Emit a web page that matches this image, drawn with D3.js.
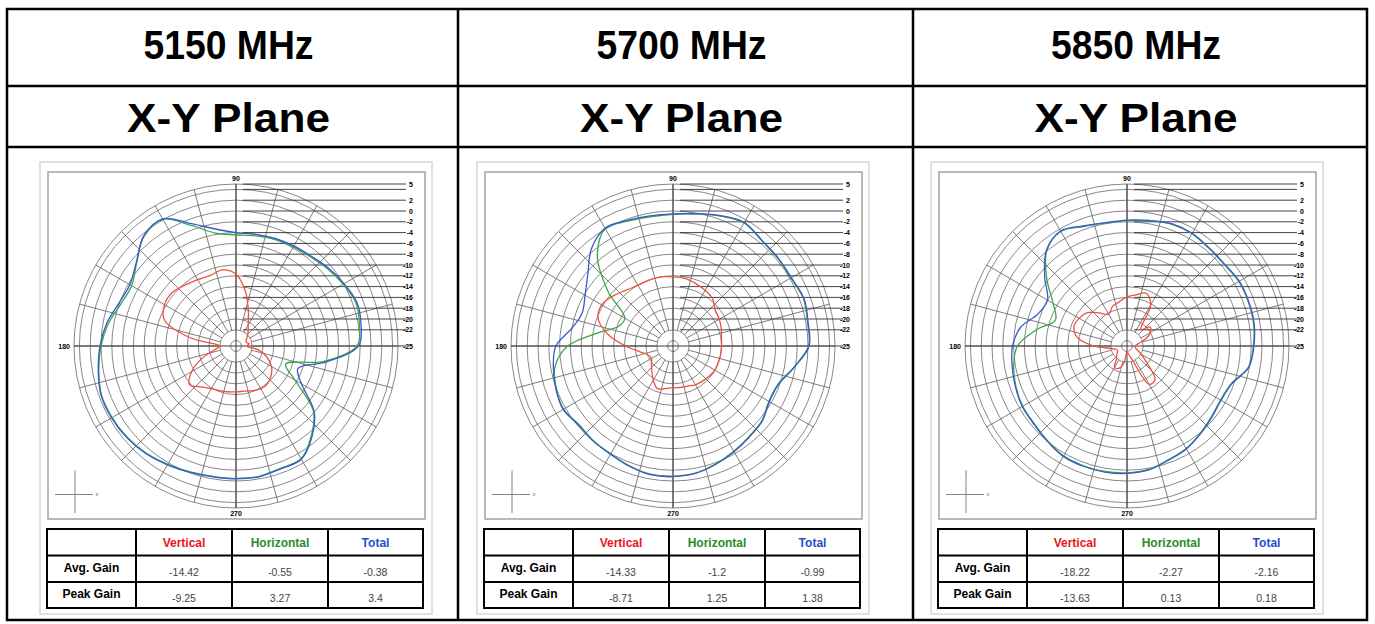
<!DOCTYPE html>
<html>
<head>
<meta charset="utf-8">
<script src="https://cdn.jsdelivr.net/npm/d3@7"></script>
<style>
body { margin: 0; background: #fff; }
svg { display: block; font-family: Arial, "Liberation Sans", sans-serif; }
</style>
</head>
<body>
<svg id="chart" width="1375" height="624"></svg>
<script>
// ---- data ----
const FREQS = ['5150 MHz', '5700 MHz', '5850 MHz'];
const PLANE = 'X-Y Plane';
const ANGLES = [0, 10, 20, 30, 40, 50, 60, 70, 80, 90, 100, 110, 120, 130, 140, 150, 160, 170,
                180, 190, 200, 210, 220, 230, 240, 250, 260, 270, 280, 290, 300, 310, 320, 330, 340, 350];

// 5150 MHz
const V_5150 = [-23, -22.5, -23, -22.8, -22.3, -21.5, -20.5, -18.3, -14.8, -11.7, -10.7, -11.1, -10.8, -10.3, -9.6, -9.7, -10.9, -16.5,
                -22, -21, -18.3, -15.5, -13.8, -15.1, -15.9, -16.2, -16.4, -16.5, -16.5, -16.2, -15.8, -15.9, -16.5, -17.4, -18.9, -20.8];
const H_5150 = [-2.6, -1.8, -1.4, -2.1, -2.8, -3.5, -3.8, -4.0, -4.3, -4.4, -3.8, -1.3, 2.1, 1.5, -1.0, -2.7, -2.3, -1.0,
                0.0, 0.8, 1.5, 1.5, 1.3, 0.9, 0.3, -0.2, -0.5, -0.5, -0.5, -0.9, -0.9, -3.3, -6.3, -12.4, -15.2, -8.5];
const T_5150 = [-2.3, -1.5, -1.2, -1.9, -2.6, -3.3, -3.6, -3.8, -4.0, -4.0, -3.0, -0.9, 2.2, 1.6, -0.9, -2.3, -1.9, -0.7,
                0.2, 0.9, 1.6, 1.6, 1.4, 1.0, 0.4, -0.1, -0.4, -0.4, -0.4, -0.8, -0.8, -3.1, -6.1, -11.0, -12.8, -8.0];

// 5700 MHz
const V_5700 = [-16.0, -15.9, -15.5, -15.1, -14.75, -13.6, -13.1, -12.7, -12.3, -12.2, -12.0, -12.0, -12.0, -11.5, -10.55, -9.75, -10.25, -12.8,
                -16.2, -18.8, -20.1, -20.4, -19.8, -18.9, -17.7, -16.6, -17.0, -17.3, -17.2, -17.1, -16.7, -16.5, -16.3, -16.05, -16.1, -16.05];
const H_5700 = [0.1, 0.3, 0.7, 0.2, 0.3, 0.5, 1.3, 0.6, -0.2, -0.6, -0.7, -0.4, 0.1, -3.2, -9.3, -14.7, -14.3, -10.9,
                -5.5, -2.8, -2.0, -1.6, -2.3, -2.1, -1.9, -1.4, -0.9, -0.9, -1.1, -1.8, -2.5, -3.1, -3.5, -4.5, -4.3, -2.3];
const T_5700 = [0.2, 0.4, 0.8, 0.3, 0.4, 0.6, 1.4, 0.7, -0.1, -0.55, -0.55, -0.25, 0.2, -1.5, -4.4, -6.2, -7.1, -6.0,
                -3.3, -2.5, -1.9, -1.5, -2.2, -2.0, -1.85, -1.3, -0.8, -0.8, -1.05, -1.7, -2.4, -3.0, -3.4, -4.4, -4.2, -2.2];

// 5850 MHz
const V_5850 = [-23.5, -23, -21.5, -20, -19.5, -21, -16.2, -14.6, -15.4, -15.9, -16.7, -17.2, -18.2, -17.0, -15.4, -14.75, -14.55, -15.6,
                -18.8, -22.2, -23, -23, -22.5, -22, -20.4, -20.6, -21.8, -24, -23.5, -22.5, -16.8, -16.9, -20.2, -22, -23, -23.5];
const H_5850 = [-1.6, -1.2, -1.1, -1.1, -1.5, -1.4, -1.0, -1.0, -1.5, -1.8, -1.9, -1.45, -0.5, -1.9, -5.6, -9.2, -10.9, -7.9,
                -4.7, -3.7, -3.1, -2.7, -2.6, -2.1, -1.5, -1.4, -1.4, -1.5, -1.8, -2.6, -3.1, -3.9, -4.6, -5.0, -4.5, -2.2];
const T_5850 = [-1.5, -1.1, -1.0, -1.0, -1.4, -1.3, -0.9, -0.9, -1.4, -1.7, -1.8, -1.35, -0.4, -1.8, -5.1, -8.0, -7.5, -5.0,
                -3.8, -3.4, -3.0, -2.6, -2.5, -2.0, -1.4, -1.3, -1.3, -1.4, -1.7, -2.5, -3.0, -3.8, -4.5, -4.9, -4.4, -2.1];

const SERIES_NAMES = ['Vertical', 'Horizontal', 'Total'];
const AVG_GAIN = [['-14.42', '-0.55', '-0.38'], ['-14.33', '-1.2', '-0.99'], ['-18.22', '-2.27', '-2.16']];
const PEAK_GAIN = [['-9.25', '3.27', '3.4'], ['-8.71', '1.25', '1.38'], ['-13.63', '0.13', '0.18']];
const ROW_NAMES = ['Avg. Gain', 'Peak Gain'];

const RINGS = [5, 4, 2, 0, -2, -4, -6, -8, -10, -12, -14, -16, -18, -20, -22, -24];
const RING_TICKS = [5, 4, 2, 0, -2, -4, -6, -8, -10, -12, -14, -16, -18, -20, -22, -25];
const RING_LABELS = ['5', '', '2', '0', '-2', '-4', '-6', '-8', '-10', '-12', '-14', '-16', '-18', '-20', '-22', '-25'];
const ANGLE_LABELS = [[90, '90'], [180, '180'], [270, '270']];

const PANELS = [
	{v: V_5150, h: H_5150, t: T_5150},
	{v: V_5700, h: H_5700, t: T_5700},
	{v: V_5850, h: H_5850, t: T_5850}
];

// ---- layout ----
const COL_X = [7, 458, 913, 1367];
const ROW_Y = [9, 86, 147, 620];
const CENTERS = [236, 673, 1127];
const CY = 346;
const R = 162;
const COLORS = {v: '#f0503c', h: '#3aa845', t: '#3858d0'};
const HEAD_COLORS = ['#e8141e', '#2a8c2a', '#1f4fc8'];

const svg = d3.select('#chart');

// outer word-style table
const frame = svg.append('g').attr('stroke', '#000').attr('stroke-width', 2.5).attr('fill', 'none');
frame.append('rect')
	.attr('x', COL_X[0]).attr('y', ROW_Y[0])
	.attr('width', COL_X[3] - COL_X[0]).attr('height', ROW_Y[3] - ROW_Y[0]);
[ROW_Y[1], ROW_Y[2]].forEach(y => {
	frame.append('line').attr('x1', COL_X[0]).attr('x2', COL_X[3]).attr('y1', y).attr('y2', y);
});
[COL_X[1], COL_X[2]].forEach(x => {
	frame.append('line').attr('x1', x).attr('x2', x).attr('y1', ROW_Y[0]).attr('y2', ROW_Y[3]);
});

FREQS.forEach((f, i) => {
	const mx = (COL_X[i] + COL_X[i + 1]) / 2 - 4;
	svg.append('text').attr('x', mx).attr('y', 59)
		.attr('text-anchor', 'middle').attr('font-size', 41).attr('font-weight', 'bold')
		.attr('textLength', 170).attr('lengthAdjust', 'spacingAndGlyphs')
		.text(f);
	svg.append('text').attr('x', mx).attr('y', 132)
		.attr('text-anchor', 'middle').attr('font-size', 41).attr('font-weight', 'bold')
		.attr('textLength', 203).attr('lengthAdjust', 'spacingAndGlyphs')
		.text(PLANE);
});

const r = d3.scaleLinear().domain([-25, 5]).range([0, R]).clamp(true);
const toRad = a => (90 - a) * Math.PI / 180;

function drawPanel(i) {
	const cx = CENTERS[i];
	const p = PANELS[i];
	const g = svg.append('g');

	// frames
	g.append('rect').attr('x', cx - 196).attr('y', 162).attr('width', 392).attr('height', 452)
		.attr('fill', 'none').attr('stroke', '#c4c4c4').attr('stroke-width', 1);
	g.append('rect').attr('x', cx - 188).attr('y', 172).attr('width', 377).attr('height', 347)
		.attr('fill', 'none').attr('stroke', '#a8a8a8').attr('stroke-width', 1.6);

	const plot = g.append('g').attr('transform', `translate(${cx},${CY})`);

	// rings
	plot.selectAll('circle.ring').data(RINGS).enter().append('circle')
		.attr('r', d => r(d)).attr('fill', 'none')
		.attr('stroke', '#7a7a7a').attr('stroke-width', 0.9);

	// spokes
	plot.selectAll('line.spoke').data(d3.range(0, 360, 15)).enter().append('line')
		.attr('x1', a => r(-22) * Math.cos(a * Math.PI / 180))
		.attr('y1', a => -r(-22) * Math.sin(a * Math.PI / 180))
		.attr('x2', a => r(5) * Math.cos(a * Math.PI / 180))
		.attr('y2', a => -r(5) * Math.sin(a * Math.PI / 180))
		.attr('stroke', '#6e6e6e').attr('stroke-width', 0.9);

	// axes
	plot.append('line').attr('x1', -R).attr('x2', 170).attr('y1', 0).attr('y2', 0)
		.attr('stroke', '#3a3a3a').attr('stroke-width', 1);
	plot.append('line').attr('x1', 0).attr('x2', 0).attr('y1', -R).attr('y2', R)
		.attr('stroke', '#3a3a3a').attr('stroke-width', 1);

	// dB scale lines to the right
	plot.selectAll('line.tick').data(RING_TICKS.filter(d => d > -25)).enter().append('line')
		.attr('x1', 7).attr('x2', 170)
		.attr('y1', d => -r(d)).attr('y2', d => -r(d))
		.attr('stroke', '#2e2e2e').attr('stroke-width', 0.9);
	plot.selectAll('text.tick').data(RING_TICKS).enter().append('text')
		.attr('x', 177).attr('y', d => -r(d) + 2.5)
		.attr('text-anchor', 'end').attr('font-size', 7).attr('font-weight', 'bold')
		.text((d, k) => RING_LABELS[k]);

	// angle labels
	ANGLE_LABELS.forEach(([a, t]) => {
		const t_el = plot.append('text').attr('font-size', 7).attr('font-weight', 'bold').text(t);
		if (a === 90) t_el.attr('x', 0).attr('y', -R - 3).attr('text-anchor', 'middle');
		if (a === 270) t_el.attr('x', 0).attr('y', R + 8).attr('text-anchor', 'middle');
		if (a === 180) t_el.attr('x', -R - 4).attr('y', 2.5).attr('text-anchor', 'end');
	});

	// pattern curves
	const line = d3.lineRadial()
		.angle((d, k) => toRad(ANGLES[k]))
		.radius(d => r(d))
		.curve(d3.curveCatmullRomClosed.alpha(0.5));
	[['h', 1.3], ['t', 1.3], ['v', 1.3]].forEach(([k, w]) => {
		plot.append('path').datum(p[k])
			.attr('d', line).attr('fill', 'none')
			.attr('stroke', COLORS[k]).attr('stroke-width', w);
	});

	// little x-y icon
	const ic = g.append('g').attr('stroke', '#777').attr('stroke-width', 0.9);
	ic.append('line').attr('x1', cx - 161).attr('x2', cx - 161).attr('y1', 472).attr('y2', 513);
	ic.append('line').attr('x1', cx - 181).attr('x2', cx - 143).attr('y1', 494.5).attr('y2', 494.5);
	g.append('text').attr('x', cx - 161).attr('y', 473).attr('text-anchor', 'middle')
		.attr('font-size', 4).attr('fill', '#555').text('Y');
	g.append('text').attr('x', cx - 139).attr('y', 496).attr('text-anchor', 'middle')
		.attr('font-size', 5).attr('fill', '#555').text('x');

	// gain table
	const tx = [cx - 189, cx - 100, cx - 4, cx + 92, cx + 187];
	const ty = [529, 555.5, 582, 608];
	const tb = g.append('g').attr('stroke', '#000').attr('stroke-width', 2).attr('fill', 'none');
	tb.append('rect').attr('x', tx[0]).attr('y', ty[0]).attr('width', tx[4] - tx[0]).attr('height', ty[3] - ty[0]);
	tx.slice(1, 4).forEach(x => tb.append('line').attr('x1', x).attr('x2', x).attr('y1', ty[0]).attr('y2', ty[3]));
	ty.slice(1, 3).forEach(y => tb.append('line').attr('x1', tx[0]).attr('x2', tx[4]).attr('y1', y).attr('y2', y));

	SERIES_NAMES.forEach((s, k) => {
		g.append('text').attr('x', (tx[k + 1] + tx[k + 2]) / 2).attr('y', 546.5)
			.attr('text-anchor', 'middle').attr('font-size', 12).attr('font-weight', 'bold')
			.attr('fill', HEAD_COLORS[k]).text(s);
	});
	[AVG_GAIN[i], PEAK_GAIN[i]].forEach((row, j) => {
		const yc = (ty[j + 1] + ty[j + 2]) / 2;
		g.append('text').attr('x', (tx[0] + tx[1]) / 2).attr('y', yc + 3)
			.attr('text-anchor', 'middle').attr('font-size', 12).attr('font-weight', 'bold')
			.text(ROW_NAMES[j]);
		row.forEach((v, k) => {
			g.append('text').attr('x', (tx[k + 1] + tx[k + 2]) / 2).attr('y', yc + 7)
				.attr('text-anchor', 'middle').attr('font-size', 10.5).attr('fill', '#444')
				.text(v);
		});
	});
}

[0, 1, 2].forEach(drawPanel);
</script>
</body>
</html>
